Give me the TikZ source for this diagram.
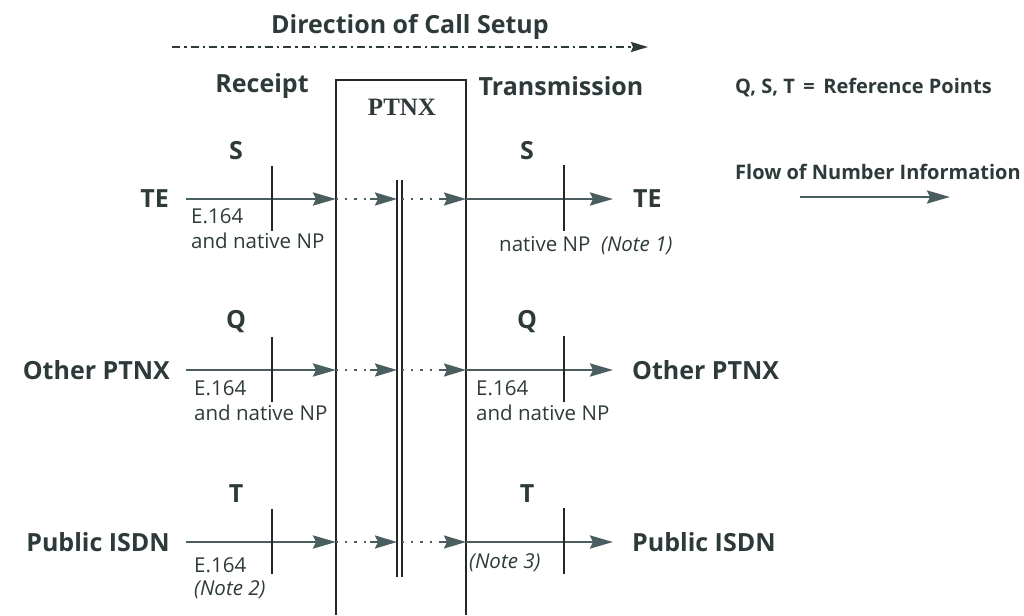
\documentclass[tikz,border=0pt]{standalone}
\usepackage{fontspec}
\setmainfont{Open Sans}
\newfontfamily\serifb{Liberation Serif}
\usetikzlibrary{arrows.meta}
\definecolor{txt}{HTML}{2E3A3A}
\definecolor{arr}{HTML}{4A5E5F}
\begin{document}
\begin{tikzpicture}[x=1pt,y=-1pt,
  big/.style={font=\fontsize{25}{28}\selectfont\bfseries, text=txt, inner sep=0pt},
  mid/.style={font=\fontsize{20}{23}\selectfont\bfseries, text=txt, inner sep=0pt},
  small/.style={font=\fontsize{20.5}{23}\selectfont, text=txt, inner sep=0pt, anchor=west},
  smallit/.style={small, font=\fontsize{20.5}{23}\selectfont\itshape},
  flow/.style={draw=arr, line width=2.8pt, -{Stealth[length=23pt,width=13pt,inset=3pt]}},
  dotline/.style={draw=arr, line width=2.2pt, dash pattern=on 2.2pt off 7pt},
  tip/.style={draw=arr, line width=2.2pt, -{Stealth[length=22pt,width=13pt,inset=3pt]}},
  tick/.style={draw=black!85, line width=1.8pt},
  boxline/.style={draw=black!85, line width=1.6pt},
  dashdot/.style={draw=txt, line width=2pt, dash pattern=on 8pt off 4pt on 2.5pt off 4pt},
  ddtip/.style={draw=txt, line width=2pt, -{Stealth[length=17pt,width=10pt,inset=2pt]}}]
\useasboundingbox (0,0) rectangle (1024,615);

% header
\node[big] (dir) at (410,27) {Direction of Call Setup};
\coordinate (dirA) at (172,47);
\coordinate (dirM) at (634,47);
\coordinate (dirB) at (648,47);
\draw[dashdot] (dirA) -- (dirM);
\draw[ddtip] (dirM) -- (dirB);
\node[big] (rec) at (262,86) {Receipt};
\node[big] (tra) at (561,86) {Transmission};

% PTNX box
\coordinate (bxBL) at (336,615);
\coordinate (bxTL) at (336,80);
\coordinate (bxTR) at (466,80);
\coordinate (bxBR) at (466,615);
\draw[boxline] (bxBL) -- (bxTL) -- (bxTR) -- (bxBR);
\node[font=\serifb\fontsize{25}{28}\selectfont\bfseries, text=txt, inner sep=0pt] (ptnx) at (402,107) {PTNX};
\coordinate (dlA1) at (397,180);
\coordinate (dlA2) at (397,577);
\coordinate (dlB1) at (402,180);
\coordinate (dlB2) at (402,577);
\draw[boxline] (dlA1) -- (dlA2);
\draw[boxline] (dlB1) -- (dlB2);

% rows
\foreach \y/\n in {199/1,370/2,542/3}{
  \coordinate (s\n) at (186,\y);
  \coordinate (bl\n) at (336,\y);
  \coordinate (dta\n) at (370,\y);
  \coordinate (da\n) at (397,\y);
  \coordinate (db\n) at (402,\y);
  \coordinate (dtb\n) at (439,\y);
  \coordinate (br\n) at (466,\y);
  \coordinate (e\n) at (613,\y);
  \coordinate (tla\n) at (272,\y-33);
  \coordinate (tlb\n) at (272,\y+32);
  \coordinate (tra\n) at (564,\y-34);
  \coordinate (trb\n) at (564,\y+32);
  \draw[flow] (s\n) -- (bl\n);
  \draw[dotline] (bl\n) -- (dta\n);
  \draw[tip] (dta\n) -- (da\n);
  \draw[dotline] (db\n) -- (dtb\n);
  \draw[tip] (dtb\n) -- (br\n);
  \draw[flow] (br\n) -- (e\n);
  \draw[tick] (tla\n) -- (tlb\n);
  \draw[tick] (tra\n) -- (trb\n);
}

% row 1
\node[big] (sL) at (236,151) {S};
\node[big] (sR) at (527,151) {S};
\node[big, anchor=east] (teL) at (169,199) {TE};
\node[big, anchor=west] (teR) at (633,199) {TE};
\node[small] (e1) at (191,216) {E.164};
\node[small] (n1) at (191,241) {and native NP};
\node[small] (nr1) at (499,246) {native NP\ \ \textit{(Note 1)}};

% row 2
\node[big] (qL) at (236,322) {Q};
\node[big] (qR) at (527,322) {Q};
\node[big, anchor=east] (opL) at (170,370) {Other PTNX};
\node[big, anchor=west] (opR) at (632,370) {Other PTNX};
\node[small] (e2) at (194,388) {E.164};
\node[small] (n2) at (194,413) {and native NP};
\node[small] (e2r) at (476,388) {E.164};
\node[small] (n2r) at (476,413) {and native NP};

% row 3
\node[big] (tL) at (236,494) {T};
\node[big] (tR) at (527,494) {T};
\node[big, anchor=east] (piL) at (170,542) {Public ISDN};
\node[big, anchor=west] (piR) at (632,542) {Public ISDN};
\node[small] (e3) at (194,565) {E.164};
\node[smallit] (n3) at (194,590) {(Note 2)};
\node[smallit] (n3r) at (469,563) {(Note 3)};

% legend
\node[mid, anchor=west] (lg1) at (735,88) {Q, S, T \,=\, Reference Points};
\node[mid, anchor=west] (lg2) at (735,172) {Flow of Number Information};
\coordinate (lgA) at (800,197);
\coordinate (lgB) at (950,197);
\draw[flow, line width=2.4pt] (lgA) -- (lgB);
\end{tikzpicture}
\end{document}
